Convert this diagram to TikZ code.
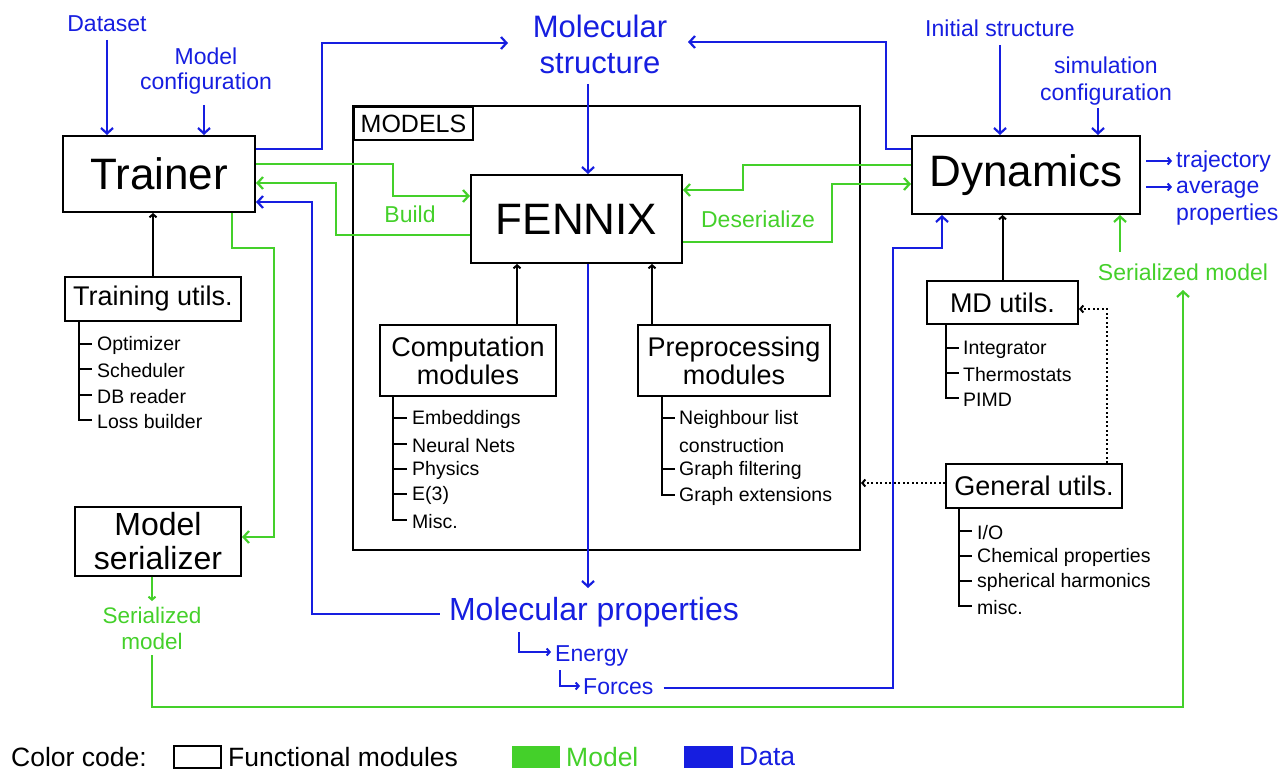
\documentclass[tikz,border=0pt]{standalone}
\usepackage{fontspec}
\setmainfont{Liberation Sans}
\usetikzlibrary{arrows.meta,calc}
\definecolor{dgreen}{RGB}{68,208,42}
\definecolor{dblue}{RGB}{22,30,224}
\begin{document}
\begin{tikzpicture}[x=1pt,y=-1pt,
  box/.style={draw=black,line width=2pt,inner sep=0pt,align=center},
  lbl/.style={inner sep=0pt,align=center,font=\fontsize{23}{26.5}\selectfont},
  item/.style={inner sep=0pt,anchor=west,yshift=-1.5pt,font=\fontsize{19.5}{22}\selectfont},
  bl/.style={draw=dblue,line width=2.2pt,-{Straight Barb[length=5.5pt,width=12pt]}},
  gr/.style={draw=dgreen,line width=2.2pt,-{Straight Barb[length=5.5pt,width=12pt]}},
  bls/.style={draw=dblue,line width=2pt,-{Straight Barb[length=3pt,width=7pt]}},
  grs/.style={draw=dgreen,line width=2pt,-{Straight Barb[length=3pt,width=7pt]}},
  bk/.style={draw=black,line width=2pt,-{Straight Barb[length=3pt,width=7pt]}},
  dt/.style={draw=black,line width=2pt,dash pattern=on 2pt off 2.5pt,-{Straight Barb[length=3pt,width=7pt]}},
  tree/.style={draw=black,line width=2pt}]
\useasboundingbox (0,0) rectangle (1282,770);

% ---------- boxes ----------
\node[box,minimum width=507pt,minimum height=444pt] (models) at (606.5,328) {};
\node[box,anchor=north west,minimum width=119pt,minimum height=33pt,font=\fontsize{25}{28}\selectfont] (mlabel) at (353,106) {MODELS};
\node[box,minimum width=192pt,minimum height=76pt,font=\fontsize{44}{50}\selectfont] (trainer) at (159,174) {Trainer};
\node[box,minimum width=176pt,minimum height=44pt,font=\fontsize{27}{30}\selectfont] (trutils) at (153,299) {Training utils.};
\node[box,minimum width=166pt,minimum height=69pt,font=\fontsize{32}{34}\selectfont] (modser) at (158,541) {Model\\serializer};
\node[box,minimum width=211pt,minimum height=88pt,font=\fontsize{44}{50}\selectfont] (fennix) at (576.5,219) {FENNIX};
\node[box,minimum width=176pt,minimum height=71pt,font=\fontsize{27}{28}\selectfont] (comp) at (468,360.5) {Computation\\modules};
\node[box,minimum width=192pt,minimum height=71pt,font=\fontsize{27}{28}\selectfont] (prep) at (734,360.5) {Preprocessing\\modules};
\node[box,minimum width=228pt,minimum height=78pt,font=\fontsize{44}{50}\selectfont] (dyn) at (1026,175) {Dynamics};
\node[box,minimum width=151pt,minimum height=43pt,font=\fontsize{27}{30}\selectfont] (mdutils) at (1002.5,302.5) {MD utils.};
\node[box,minimum width=176pt,minimum height=44pt,font=\fontsize{27}{30}\selectfont] (genutils) at (1034,486) {General utils.};

% ---------- text labels ----------
\node[lbl,text=dblue] (dataset) at (107,24) {Dataset};
\node[lbl,text=dblue,font=\fontsize{23}{25.5}\selectfont] (mconf) at (206,71) {Model\\configuration};
\node[lbl,text=dblue,font=\fontsize{31}{36}\selectfont] (ms) at (600,44) {Molecular\\structure};
\node[lbl,text=dblue] (initst) at (1000,28) {Initial structure};
\node[lbl,text=dblue,font=\fontsize{23}{27}\selectfont] (simconf) at (1106,81) {simulation\\configuration};
\node[lbl,text=dblue,anchor=west] (traj) at (1176,162) {trajectory};
\node[lbl,text=dblue,anchor=west,align=left,font=\fontsize{23}{27}\selectfont] (avg) at (1176,203) {average\\properties};
\node[lbl,text=dgreen] (build) at (410,214) {Build};
\node[lbl,text=dgreen] (deser) at (758,219) {Deserialize};
\node[lbl,text=dgreen] (serR) at (1183,272) {Serialized model};
\node[lbl,text=dgreen,font=\fontsize{22.5}{26}\selectfont] (serL) at (152,628) {Serialized\\model};
\node[lbl,text=dblue,font=\fontsize{32}{36}\selectfont] (mp) at (594,612) {Molecular properties};
\node[lbl,text=dblue,anchor=west] (energy) at (555,656) {Energy};
\node[lbl,text=dblue,anchor=west] (forces) at (583,687) {Forces};

% ---------- trees ----------
\draw[tree] (79,321) -- (79,420) -- (92,420);
\foreach \y in {344,369,395} \draw[tree] (79,\y) -- (92,\y);
\node[item] (tu1) at (97,344) {Optimizer};
\node[item] (tu2) at (97,369) {Scheduler};
\node[item] (tu3) at (97,395) {DB reader};
\node[item] (tu4) at (97,420) {Loss builder};

\draw[tree] (393,396) -- (393,520) -- (407,520);
\foreach \y in {418,444,469,494} \draw[tree] (393,\y) -- (407,\y);
\node[item] (cm1) at (412,418) {Embeddings};
\node[item] (cm2) at (412,444) {Neural Nets};
\node[item] (cm3) at (412,469) {Physics};
\node[item] (cm4) at (412,494) {E(3)};
\node[item] (cm5) at (412,520) {Misc.};

\draw[tree] (662,396) -- (662,495) -- (675,495);
\foreach \y in {418,469} \draw[tree] (662,\y) -- (675,\y);
\node[item] (pp1) at (679,418) {Neighbour list};
\node[item] (pp2) at (679,444) {construction};
\node[item] (pp3) at (679,469) {Graph filtering};
\node[item] (pp4) at (679,495) {Graph extensions};

\draw[tree] (946,324) -- (946,398) -- (959,398);
\foreach \y in {348,373} \draw[tree] (946,\y) -- (959,\y);
\node[item] (md1) at (963,348) {Integrator};
\node[item] (md2) at (963,373) {Thermostats};
\node[item] (md3) at (963,398) {PIMD};

\draw[tree] (959,508) -- (959,606) -- (972,606);
\foreach \y in {531,556,581} \draw[tree] (959,\y) -- (972,\y);
\node[item] (gu1) at (977,531) {I/O};
\node[item] (gu2) at (977,556) {Chemical properties};
\node[item] (gu3) at (977,581) {spherical harmonics};
\node[item] (gu4) at (977,606) {misc.};

% ---------- black arrows ----------
\coordinate (ca) at ($(comp.north)+(49,0)$);
\coordinate (pa) at ($(prep.north west)+(15,0)$);
\draw[bk] (trutils.north) -- (trutils.north |- trainer.south);
\draw[bk] (ca) -- (ca |- fennix.south);
\draw[bk] (pa) -- (pa |- fennix.south);
\draw[bk] (mdutils.north) -- (mdutils.north |- dyn.south);
\draw[dt] (genutils.north -| 1107,0) -- (1107,309) -- (mdutils.east |- 0,309);
\draw[dt] (genutils.west |- 0,483) -- (models.east |- 0,483);

% ---------- blue arrows ----------
\draw[bl] (dataset.south |- 0,40) -- (dataset.south |- trainer.north);
\draw[bl] (204,105) -- (204,0 |- trainer.north);
\draw[bl] (trainer.east |- 0,149) -- (322,149) -- (322,43) -- (508,43);
\draw[bl] (588,84) -- (588,0 |- fennix.north);
\draw[bl] (dyn.west |- 0,149) -- (886,149) -- (886,42) -- (688,42);
\draw[bl] (1000,45) -- (1000,0 |- dyn.north);
\draw[bl] (1098,108) -- (1098,0 |- dyn.north);
\draw[bls] ([xshift=5pt]dyn.east |- 0,161) -- (1172,161);
\draw[bls] ([xshift=5pt]dyn.east |- 0,187) -- (1172,187);
\draw[bl] (588,0 |- fennix.south) -- (588,588);
\draw[bl] ($(mp.west)+(-9,2)$) -- (312,614) -- (312,202) -- (trainer.east |- 0,202);
\draw[bls] (519,632) -- (519,652) -- (551,652);
\draw[bls] (560,670) -- (560,686) -- (580,686);
\draw[bl] ($(forces.east)+(10,1)$) -- (893,688) -- (893,248) -- (942,248) -- (942,0 |- dyn.south);

% ---------- green arrows ----------
\draw[gr] (trainer.east |- 0,164) -- (393,164) -- (393,196) -- (fennix.west |- 0,196);
\draw[gr] (fennix.west |- 0,235) -- (336,235) -- (336,183) -- (trainer.east |- 0,183);
\draw[gr] (232,0 |- trainer.south) -- (232,248) -- (274,248) -- (274,537) -- (modser.east |- 0,537);
\draw[grs] (152,0 |- modser.south) -- (152,601);
\draw[gr] (152,655) -- (152,707) -- (1183,707) -- (1183,290);
\draw[gr] (1120,252) -- (1120,0 |- dyn.south);
\draw[gr] (dyn.west |- 0,165) -- (743,165) -- (743,190) -- (fennix.east |- 0,190);
\draw[gr] (fennix.east |- 0,242) -- (832,242) -- (832,184) -- (dyn.west |- 0,184);

% ---------- legend ----------
\node[anchor=west,inner sep=0pt,font=\fontsize{26.5}{30}\selectfont] (cc) at (11,757) {Color code:};
\node[draw,line width=2pt,minimum width=47pt,minimum height=22pt,inner sep=0pt] (lgbox) at (197.5,757) {};
\node[anchor=west,inner sep=0pt,font=\fontsize{26.5}{30}\selectfont] (lgfm) at (228,757) {Functional modules};
\node[fill=dgreen,minimum width=48pt,minimum height=22pt,inner sep=0pt] (lggr) at (536,757) {};
\node[anchor=west,inner sep=0pt,text=dgreen,font=\fontsize{26.5}{30}\selectfont] (lgmodel) at (566,757) {Model};
\node[fill=dblue,minimum width=49pt,minimum height=22pt,inner sep=0pt] (lgbl) at (708.5,757) {};
\node[anchor=west,inner sep=0pt,text=dblue,font=\fontsize{26.5}{30}\selectfont] (lgdata) at (739,757) {Data};
\end{tikzpicture}
\end{document}
